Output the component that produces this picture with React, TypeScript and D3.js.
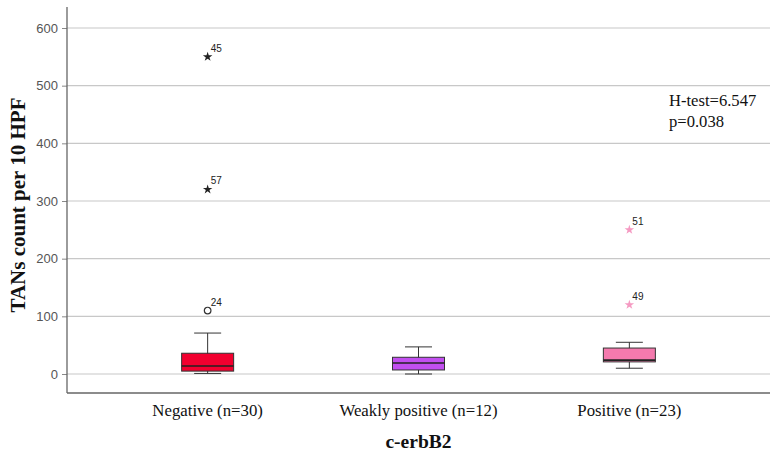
import * as d3 from "d3";
import { useEffect, useRef } from "react";

const categories = ["Negative (n=30)", "Weakly positive (n=12)", "Positive (n=23)"];
const boxColors = ["#F2002F", "#C24FF0", "#F57AAE"];
const markColors = ["#222222", "#222222", "#F59AC2"];

// five-number summaries: [whiskerLow, q1, median, q3, whiskerHigh]
const boxStats = [
  [1, 5, 14, 36, 71],
  [0, 7, 19, 29, 47],
  [10, 21, 24, 45, 55],
];

// outliers: category index, value, case id, kind
const outliers = [
  { cat: 0, value: 550, id: "45", kind: "extreme" },
  { cat: 0, value: 320, id: "57", kind: "extreme" },
  { cat: 0, value: 110, id: "24", kind: "outlier" },
  { cat: 2, value: 250, id: "51", kind: "extreme" },
  { cat: 2, value: 120, id: "49", kind: "extreme" },
];

const yTicks = [0, 100, 200, 300, 400, 500, 600];
const statLines = ["H-test=6.547", "p=0.038"];

function App() {
  const ref = useRef<SVGSVGElement>(null);
  const width = 777;
  const height = 457;
  const margin = { top: 7, right: 7, bottom: 64, left: 67 };

  useEffect(() => {
    const svg = d3.select(ref.current);
    svg.selectAll("*").remove();

    const x = d3
      .scalePoint<string>()
      .domain(categories)
      .range([margin.left, width - margin.right])
      .padding(0.667);
    const y = d3.scaleLinear().domain([0, 600]).range([374, 28]);

    const plotBottom = height - margin.bottom;

    // gridlines
    svg
      .append("g")
      .selectAll("line")
      .data(yTicks)
      .join("line")
      .attr("x1", margin.left)
      .attr("x2", width - margin.right)
      .attr("y1", (d) => y(d))
      .attr("y2", (d) => y(d))
      .attr("stroke", "#c8c8c8")
      .attr("stroke-width", 1.2);

    // y axis
    const yAxis = svg
      .append("g")
      .attr("transform", `translate(${margin.left},0)`)
      .call(d3.axisLeft(y).tickValues(yTicks).tickSize(5).tickPadding(4));
    yAxis.select(".domain").remove();
    yAxis.selectAll("line").attr("stroke", "#888");
    yAxis
      .selectAll("text")
      .attr("fill", "#555")
      .attr("font-family", "Liberation Sans, Arial, sans-serif")
      .attr("font-size", 13);

    svg
      .append("line")
      .attr("x1", margin.left)
      .attr("x2", margin.left)
      .attr("y1", margin.top)
      .attr("y2", plotBottom)
      .attr("stroke", "#666")
      .attr("stroke-width", 1.3);
    svg
      .append("line")
      .attr("x1", margin.left)
      .attr("x2", width - margin.right)
      .attr("y1", plotBottom)
      .attr("y2", plotBottom)
      .attr("stroke", "#666")
      .attr("stroke-width", 1.3);

    // x tick labels
    svg
      .append("g")
      .selectAll("text")
      .data(categories)
      .join("text")
      .attr("x", (d) => x(d)!)
      .attr("y", 416)
      .attr("text-anchor", "middle")
      .attr("font-family", "Liberation Serif, Times New Roman, serif")
      .attr("font-size", 16.8)
      .attr("fill", "#111")
      .text((d) => d);

    // boxes
    const boxW = 52;
    const capW = 27;
    const boxes = svg
      .append("g")
      .selectAll("g")
      .data(boxStats)
      .join("g")
      .attr("transform", (_, i) => `translate(${x(categories[i])},0)`);

    boxes
      .append("line")
      .attr("y1", (d) => y(d[0]))
      .attr("y2", (d) => y(d[4]))
      .attr("stroke", "#333");
    boxes
      .selectAll("line.cap")
      .data((d) => [d[0], d[4]])
      .join("line")
      .attr("class", "cap")
      .attr("x1", -capW / 2)
      .attr("x2", capW / 2)
      .attr("y1", (v) => y(v))
      .attr("y2", (v) => y(v))
      .attr("stroke", "#333");
    boxes
      .append("rect")
      .attr("x", -boxW / 2)
      .attr("width", boxW)
      .attr("y", (d) => y(d[3]))
      .attr("height", (d) => y(d[1]) - y(d[3]))
      .attr("fill", (_, i) => boxColors[i])
      .attr("stroke", "#333");
    boxes
      .append("line")
      .attr("x1", -boxW / 2)
      .attr("x2", boxW / 2)
      .attr("y1", (d) => y(d[2]))
      .attr("y2", (d) => y(d[2]))
      .attr("stroke", "#222")
      .attr("stroke-width", 1.6);

    // outliers
    const star = d3.symbol().type(d3.symbolStar).size(28);
    const pts = svg
      .append("g")
      .selectAll("g")
      .data(outliers)
      .join("g")
      .attr("transform", (d) => `translate(${x(categories[d.cat])},${y(d.value)})`);
    pts
      .filter((d) => d.kind === "extreme")
      .append("path")
      .attr("d", star()!)
      .attr("fill", (d) => markColors[d.cat]);
    pts
      .filter((d) => d.kind === "outlier")
      .append("circle")
      .attr("r", 3.3)
      .attr("fill", "none")
      .attr("stroke", "#333")
      .attr("stroke-width", 1.2);
    pts
      .append("text")
      .attr("x", 3)
      .attr("y", -5)
      .attr("font-family", "Liberation Sans, Arial, sans-serif")
      .attr("font-size", 10)
      .attr("fill", "#222")
      .text((d) => d.id);

    // test statistic
    svg
      .append("g")
      .selectAll("text")
      .data(statLines)
      .join("text")
      .attr("x", 669)
      .attr("y", (_, i) => 106 + i * 21)
      .attr("font-family", "Liberation Serif, Times New Roman, serif")
      .attr("font-size", 16.6)
      .attr("fill", "#111")
      .text((d) => d);

    // axis titles
    svg
      .append("text")
      .attr("x", (margin.left + width - margin.right) / 2)
      .attr("y", 448)
      .attr("text-anchor", "middle")
      .attr("font-family", "Liberation Serif, Times New Roman, serif")
      .attr("font-weight", "bold")
      .attr("font-size", 19.5)
      .attr("fill", "#111")
      .text("c-erbB2");
    svg
      .append("text")
      .attr("transform", `translate(25,${(margin.top + plotBottom) / 2 + 5}) rotate(-90)`)
      .attr("text-anchor", "middle")
      .attr("font-family", "Liberation Serif, Times New Roman, serif")
      .attr("font-weight", "bold")
      .attr("font-size", 21)
      .attr("fill", "#111")
      .text("TANs count per 10 HPF");
  }, []);

  return (
    <svg
      ref={ref}
      width={width}
      height={height}
      style={{ position: "absolute", left: 0, top: 0, background: "#fff" }}
    />
  );
}

export default App;
